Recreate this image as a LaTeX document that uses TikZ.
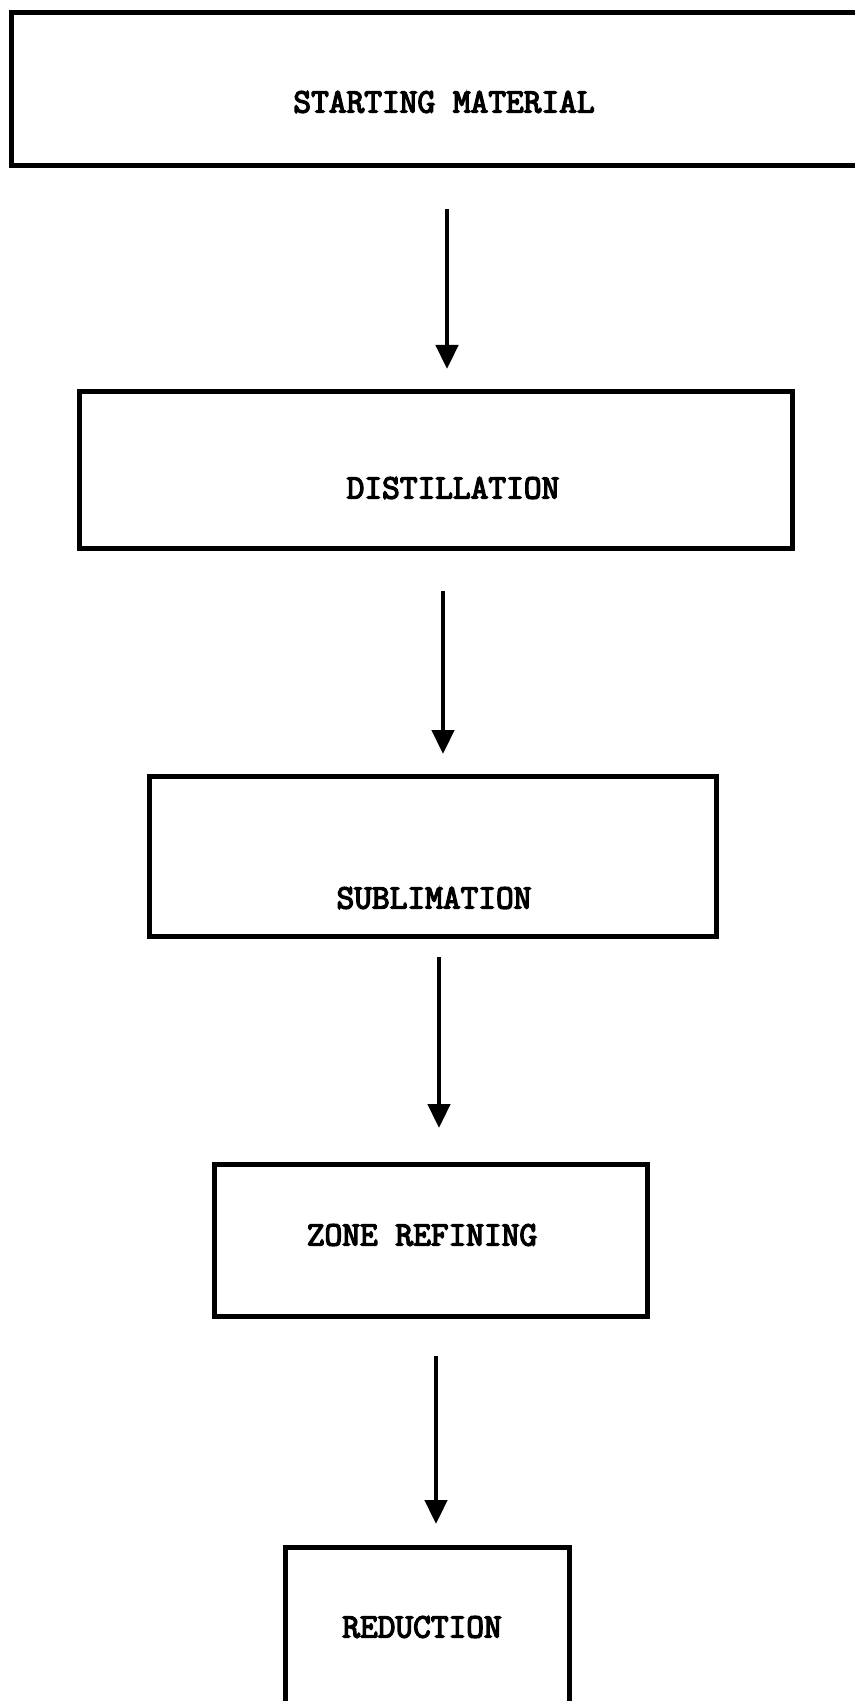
\documentclass[tikz,border=0pt]{standalone}
\usepackage{fontspec}
\usepackage{tikz}
\usetikzlibrary{arrows.meta}

\newfontfamily\typew{Latin Modern Mono}[FakeBold=4]

\tikzset{
  stepbox/.style={draw, line width=2.5pt, inner sep=0pt},
  steptext/.style={font=\typew\fontsize{17.2}{20}\selectfont, inner sep=0pt},
  flow/.style={-{Triangle[length=12pt,width=11pt]}, line width=2.3pt}
}

\begin{document}
\begin{tikzpicture}[x=0.5pt,y=-0.5pt]
\useasboundingbox (0,0) rectangle (855,1701);

%boxes
\node[stepbox, minimum width=429.5pt, minimum height=76.5pt] (start) at (440.5,89.5) {};
\node[stepbox, minimum width=356.5pt, minimum height=78.5pt] (dist) at (435.5,469.5) {};
\node[stepbox, minimum width=283.5pt, minimum height=80pt] (subl) at (432.5,856) {};
\node[stepbox, minimum width=216.5pt, minimum height=76pt] (zone) at (431,1240) {};
\node[stepbox, minimum width=142pt, minimum height=86.5pt] (redu) at (427,1633.5) {};

%labels
\node[steptext] (startT) at (444,102) {STARTING MATERIAL};
\node[steptext] (distT) at (453,488) {DISTILLATION};
\node[steptext] (sublT) at (434,898) {SUBLIMATION};
\node[steptext] (zoneT) at (422,1235) {ZONE REFINING};
\node[steptext] (reduT) at (422,1627) {REDUCTION};

%arrows
\coordinate (arr1s) at (447,209);  \coordinate (arr1e) at (447,369);
\coordinate (arr2s) at (443,591);  \coordinate (arr2e) at (443,754);
\coordinate (arr3s) at (439,957);  \coordinate (arr3e) at (439,1128);
\coordinate (arr4s) at (436,1356); \coordinate (arr4e) at (436,1524);

\draw[flow] (arr1s) -- (arr1e);
\draw[flow] (arr2s) -- (arr2e);
\draw[flow] (arr3s) -- (arr3e);
\draw[flow] (arr4s) -- (arr4e);

\end{tikzpicture}
\end{document}
